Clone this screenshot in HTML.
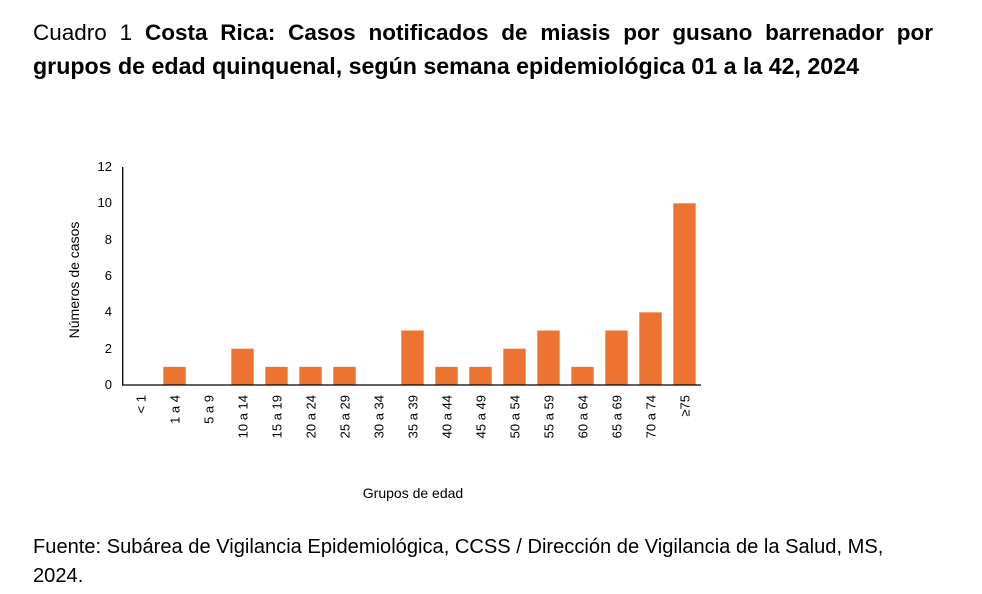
<!DOCTYPE html>
<html><head><meta charset="utf-8"><style>
body{margin:0;width:982px;height:594px;background:#fff;overflow:hidden;font-family:"Liberation Sans",sans-serif;}
.t{position:absolute;left:33px;width:900px;font-size:22.5px;line-height:33px;color:#000;white-space:nowrap;}
.j{text-align:justify;text-align-last:justify;white-space:normal;}
.f{position:absolute;left:33px;top:533px;font-size:20.1px;line-height:29px;color:#000;}
</style></head><body>
<div class="t j" style="top:16px">Cuadro 1 <b>Costa Rica: Casos notificados de miasis por gusano barrenador por</b></div>
<div class="t" style="top:50px;font-size:23.2px"><b>grupos de edad quinquenal, según semana epidemiológica 01 a la 42, 2024</b></div>
<svg width="982" height="594" style="position:absolute;left:0;top:0" font-family="Liberation Sans, sans-serif">
<g font-size="13" fill="#000" text-anchor="end">
<text x="112" y="389">0</text><text x="112" y="353">2</text><text x="112" y="316">4</text><text x="112" y="280">6</text><text x="112" y="244">8</text><text x="112" y="207">10</text><text x="112" y="171">12</text>
</g>
<text transform="translate(79,280) rotate(-90)" font-size="14" text-anchor="middle">Números de casos</text>
<g fill="#ED7430" id="bars"></g>
<line x1="122.7" y1="167" x2="122.7" y2="385" stroke="#000" stroke-width="1.3"/>
<line x1="122" y1="385" x2="701" y2="385" stroke="#000" stroke-width="1.3"/>
<g id="labs" font-size="13" text-anchor="end"></g>
<text x="413" y="498" font-size="14" text-anchor="middle">Grupos de edad</text>
</svg>
<div class="f">Fuente: Subárea de Vigilancia Epidemiológica, CCSS / Dirección de Vigilancia de la Salud, MS,<br>2024.</div>
<script>
var v=[0,1,0,2,1,1,1,0,3,1,1,2,3,1,3,4,10];
var l=["< 1","1 a 4","5 a 9","10 a 14","15 a 19","20 a 24","25 a 29","30 a 34","35 a 39","40 a 44","45 a 49","50 a 54","55 a 59","60 a 64","65 a 69","70 a 74","≥75"];
var b=document.getElementById('bars'),t=document.getElementById('labs'),ns="http://www.w3.org/2000/svg";
for(var i=0;i<17;i++){var c=140.5+34*i;
if(v[i]){var r=document.createElementNS(ns,'rect');r.setAttribute('x',c-11.2);r.setAttribute('width',22.4);var h=v[i]*18.17;r.setAttribute('y',385-h);r.setAttribute('height',h);b.appendChild(r);}
var x=document.createElementNS(ns,'text');x.setAttribute('transform','translate('+(c+5)+',395) rotate(-90)');x.textContent=l[i];t.appendChild(x);}
</script>
</body></html>
